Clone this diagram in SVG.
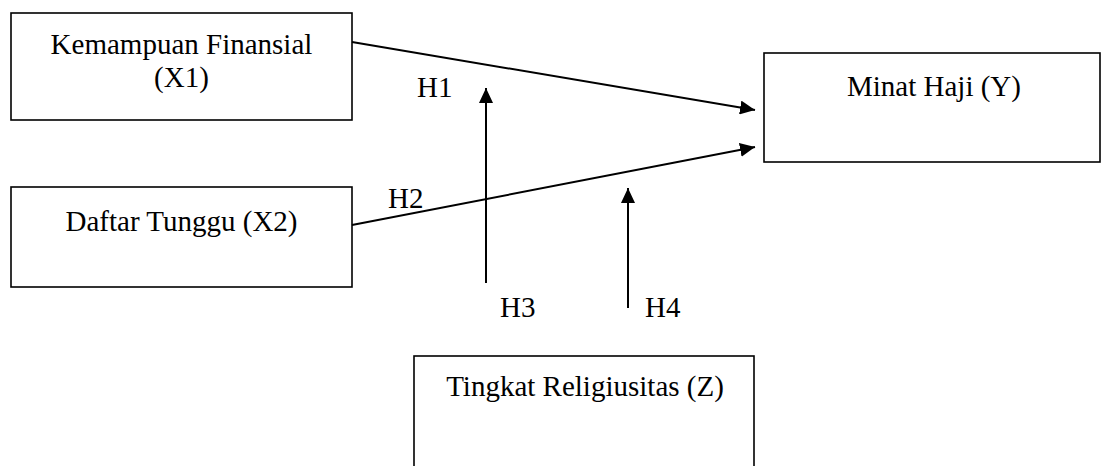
<svg xmlns="http://www.w3.org/2000/svg" width="1102" height="466" viewBox="0 0 1102 466">
<style>
.box{fill:#fff;stroke:#000;stroke-width:1.6}
.t{font-family:"Liberation Serif","Times New Roman",serif;font-size:29px;fill:#000}
.c{text-anchor:middle}
.ln{stroke:#000;stroke-width:2;fill:none}
</style>
<defs>
<marker id="ah" markerUnits="userSpaceOnUse" markerWidth="16" markerHeight="14" refX="15" refY="7" orient="auto">
<path d="M0,0 L15,7 L0,14 z" fill="#000"/>
</marker>
</defs>
<rect width="1102" height="466" fill="#fff"/>
<g id="x1">
<rect class="box" x="11" y="13" width="341" height="107"/>
<text class="t c" x="181.5" y="54">Kemampuan Finansial</text>
<text class="t c" x="181.5" y="87">(X1)</text>
</g>
<g id="x2">
<rect class="box" x="11" y="187" width="341" height="100"/>
<text class="t c" x="181.5" y="231">Daftar Tunggu (X2)</text>
</g>
<g id="y">
<rect class="box" x="764" y="53" width="336" height="109"/>
<text class="t c" x="934" y="96">Minat Haji (Y)</text>
</g>
<g id="z">
<rect class="box" x="414" y="356" width="340" height="120"/>
<text class="t c" x="585" y="396">Tingkat Religiusitas (Z)</text>
</g>
<g id="connectors">
<line class="ln" x1="352" y1="42" x2="755" y2="110" marker-end="url(#ah)"/>
<line class="ln" x1="352" y1="225" x2="755" y2="147" marker-end="url(#ah)"/>
<line class="ln" x1="486" y1="283" x2="486" y2="88" marker-end="url(#ah)"/>
<line class="ln" x1="628" y1="308" x2="628" y2="188" marker-end="url(#ah)"/>
</g>
<g id="labels">
<text class="t" x="417" y="97">H1</text>
<text class="t" x="388" y="208">H2</text>
<text class="t" x="500" y="317">H3</text>
<text class="t" x="645" y="317">H4</text>
</g>
</svg>
